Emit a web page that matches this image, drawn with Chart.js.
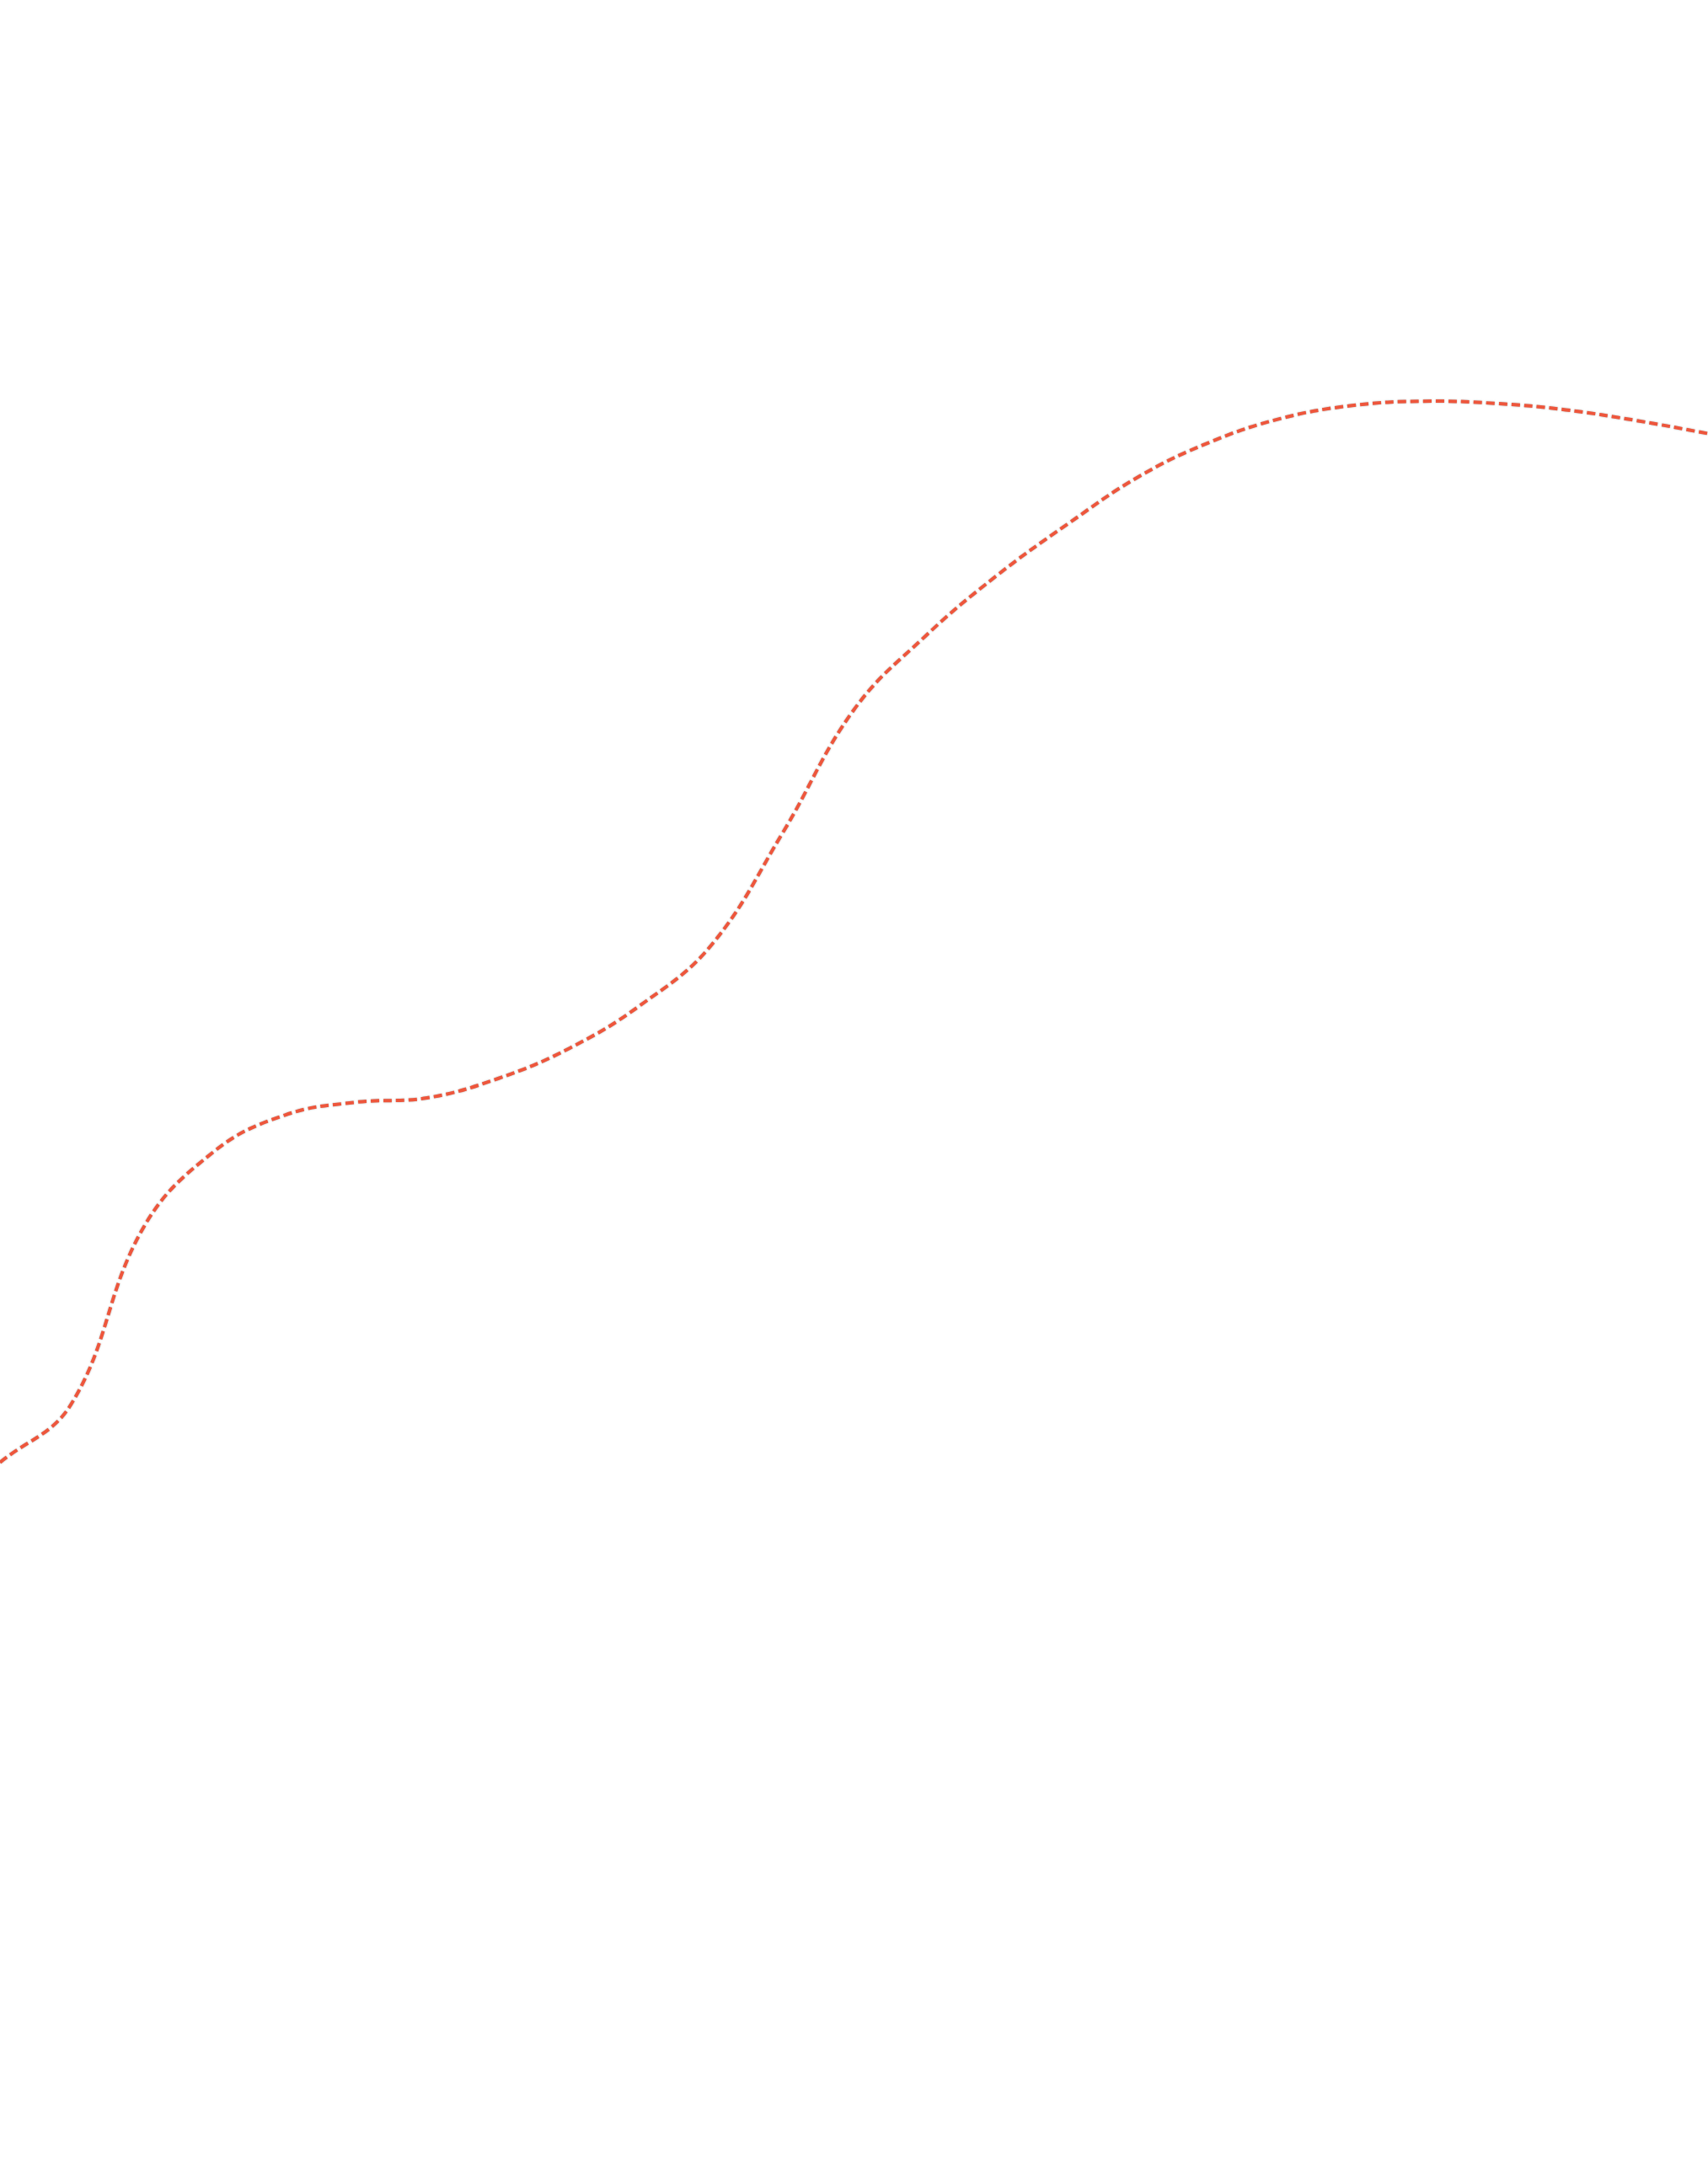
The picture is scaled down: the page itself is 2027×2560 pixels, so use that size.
<!DOCTYPE html>
<html>
<head>
<meta charset="utf-8">
<script src="https://cdn.jsdelivr.net/npm/chart.js@4/dist/chart.umd.min.js"></script>
<style>
    html, body { margin: 0; padding: 0; background: #ffffff; }
    canvas { display: block; }
</style>
</head>
<body>
<canvas id="chart" width="2027" height="2560"></canvas>
<script>
    // evenly spaced samples (0..24) and the values
    var labels = ['0', '1', '2', '3', '4', '5', '6', '7', '8', '9', '10', '11', '12',
        '13', '14', '15', '16', '17', '18', '19', '20', '21', '22', '23', '24'];
    var values = [32.2, 34.9, 43.0, 46.6, 48.3, 48.9, 49.1, 50.0, 51.4, 53.4, 56.2, 61.4, 67.1,
        70.5, 73.3, 75.7, 77.9, 79.5, 80.6, 81.2, 81.4, 81.3, 81.0, 80.5, 79.9];

    // soft grey fringe round the dashes, as in the picture
    var fringe = {
        id: 'fringe',
        beforeDatasetsDraw: function (chart) {
            var c = chart.ctx;
            c.save();
            c.shadowColor = 'rgba(110, 110, 110, 0.55)';
            c.shadowBlur = 2;
        },
        afterDatasetsDraw: function (chart) {
            chart.ctx.restore();
        }
    };

    var ctx = document.getElementById('chart');

    var chart = new Chart(ctx, {
        type: 'line',
        data: {
            labels: labels,
            datasets: [{
                label: 'series',
                fill: false,
                borderColor: 'rgb(238, 86, 60)',
                borderWidth: 4,
                borderDash: [10, 5],
                tension: 0.4,
                pointRadius: 0,
                data: values
            }]
        },
        options: {
            responsive: false,
            animation: false,
            devicePixelRatio: 1,
            layout: { padding: 0 },
            plugins: {
                legend: { display: false },
                tooltip: { enabled: false }
            },
            scales: {
                x: { display: false },
                y: { display: false, min: 0, max: 100 }
            }
        },
        plugins: [fringe]
    });
</script>
</body>
</html>
